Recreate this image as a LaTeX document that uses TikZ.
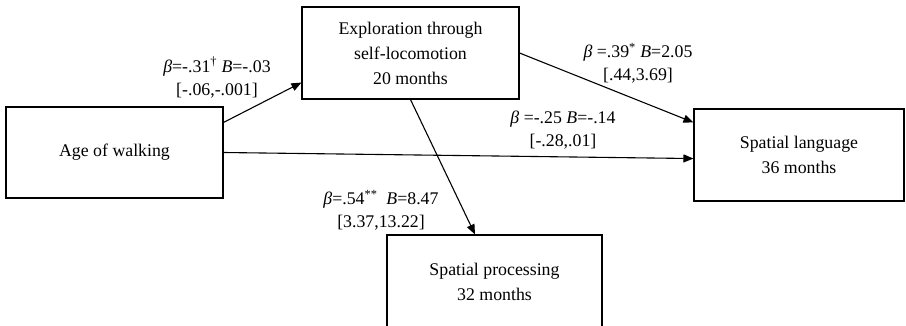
\documentclass[tikz,border=0pt]{standalone}
\usepackage{fontspec}
\setmainfont{Liberation Serif}
\usetikzlibrary{arrows.meta,calc,shadows}
\begin{document}
\begin{tikzpicture}[x=1pt,y=-1pt,
  box/.style={draw, line width=1.1pt, fill=white, align=center, inner sep=0pt,
    font=\fontsize{17.8}{25}\selectfont,
    drop shadow={shadow xshift=1.2pt, shadow yshift=-1.2pt, fill=black!35, opacity=1}},
  lab/.style={align=center, inner sep=0pt, font=\fontsize{17.8}{23}\selectfont},
  conn/.style={line width=1.1pt, -{Triangle[length=10pt,width=8pt]}}]
\useasboundingbox (0,0) rectangle (906,326);
\clip (0,0) rectangle (906,326);
\node[box, minimum width=217pt, minimum height=91pt] (age) at (114.5,152.5) {Age of walking};
\node[box, minimum width=217pt, minimum height=92pt] (expl) at (410.5,53) {Exploration through\\self-locomotion\\20 months};
\node[box, minimum width=210pt, minimum height=92pt] (lang) at (799,155) {Spatial language\\36 months};
\node[box, minimum width=215pt, minimum height=93pt] (proc) at (494.5,281.5) {Spatial processing\\32 months};
\draw[conn] ($(age.north east)+(0,16)$) -- ($(expl.south west)+(0,-17)$);
\draw[conn] (age.east) -- ($(lang.south west)+(0,-43)$);
\draw[conn] (expl.east) -- ($(lang.north west)+(0,14)$);
\draw[conn] (expl.south) -- ($(proc.north)+(-19.5,0)$);
\node[lab] (l1) at (217,77.5) {{\itshape β}=-.31\textsuperscript{†} {\itshape B}=-.03\\{[-.06,-.001]}};
\node[lab] (l2) at (638,63.5) {{\itshape β} =.39\textsuperscript{*} {\itshape B}=2.05\\{[.44,3.69]}};
\node[lab] (l3) at (563,130) {{\itshape β} =-.25 {\itshape B}=-.14\\{[-.28,.01]}};
\node[lab] (l4) at (381,210) {{\itshape β}=.54\textsuperscript{**}\ \ {\itshape B}=8.47\\{[3.37,13.22]}};
\end{tikzpicture}
\end{document}
